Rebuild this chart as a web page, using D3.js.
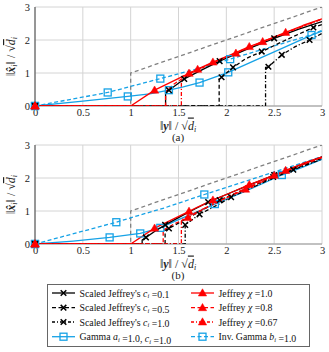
<!DOCTYPE html>
<html><head><meta charset="utf-8">
<script src="https://cdn.jsdelivr.net/npm/d3@7"></script>
<style>
body{margin:0;background:#fff;}
svg{display:block;}
svg text{font-family:"Liberation Serif","DejaVu Serif",serif;}
</style></head>
<body><svg id="c" width="329" height="352"></svg>
<script>
// ---------- data ----------
const xTicks = [0, 0.5, 1, 1.5, 2, 2.5, 3];
const yTicks = [0, 1, 2, 3];
const panelLabels = ["(a)", "(b)"];

// hard threshold reference (gray dashed), same in both panels
const hardX = [0, 1, 1, 3];
const hardY = [0, 0, 1, 3];

// Panel (a)
const aSJ01X = [0, 1.365, 1.365, 1.40, 1.56, 1.75, 1.93, 2.2, 2.5, 2.75, 3.0];
const aSJ01Y = [0, 0, 0.45, 0.48, 0.82, 1.1, 1.36, 1.7, 2.05, 2.32, 2.56];
const aSJ01M = [0, 3, 4, 6, 8];
const aSJ05X = [0, 1.925, 1.925, 1.95, 2.07, 2.2, 2.37, 2.6, 2.91, 3.0];
const aSJ05Y = [0, 0, 0.86, 0.87, 1.17, 1.43, 1.65, 1.97, 2.38, 2.47];
const aSJ05M = [0, 3, 4, 6, 8];
const aSJ10X = [0, 2.41, 2.41, 2.44, 2.58, 2.72, 2.87, 3.0];
const aSJ10Y = [0, 0, 1.17, 1.19, 1.55, 1.8, 2.0, 2.2];
const aSJ10M = [0, 3, 4, 6];
const aJ10X = [0, 1.0, 1.25, 1.61, 1.70, 1.86, 2.05, 2.24, 2.38, 2.62, 2.8, 3.0];
const aJ10Y = [0, 0, 0.48, 0.99, 1.12, 1.33, 1.56, 1.80, 1.95, 2.23, 2.44, 2.64];
const aJ10M = [0, 2, 3, 5, 7, 9];
const aJ08X = [0, 1.365, 1.365, 1.45, 1.6, 1.8, 2.1, 2.5, 3.0];
const aJ08Y = [0, 0, 0.45, 0.66, 0.95, 1.23, 1.6, 2.08, 2.64];
const aJ08M = [0, 6];
const aJ067X = [0, 1.53, 1.53, 1.70, 2.0, 2.38, 2.7, 3.0];
const aJ067Y = [0, 0, 0.88, 1.11, 1.49, 1.95, 2.31, 2.63];
const aJ067M = [0, 3, 5];
const aGamX = [0, 0.5, 0.97, 1.2, 1.40, 1.55, 1.72, 2.02, 2.3, 2.6, 2.89, 3.0];
const aGamY = [0, 0.15, 0.29, 0.37, 0.48, 0.58, 0.71, 1.02, 1.38, 1.77, 2.15, 2.27];
const aGamM = [0, 2, 4, 6, 7, 10];
const aIGX = [0, 0.76, 1.31, 1.7, 2.04, 2.5, 2.89, 3.0];
const aIGY = [0, 0.41, 0.83, 1.13, 1.42, 1.82, 2.16, 2.29];
const aIGM = [0, 1, 2, 4];

// Panel (b)
const bSJ01X = [0, 1.12, 1.12, 1.16, 1.25, 1.36, 1.5, 1.65, 1.81, 2.0, 2.25, 2.5, 2.75, 3.0];
const bSJ01Y = [0, 0, 0.12, 0.2, 0.38, 0.58, 0.8, 1.03, 1.27, 1.5, 1.8, 2.09, 2.37, 2.64];
const bSJ01M = [0, 3, 5, 8, 11];
const bSJ05X = [0, 1.36, 1.36, 1.40, 1.55, 1.72, 1.93, 2.2, 2.49, 2.75, 3.0];
const bSJ05Y = [0, 0, 0.42, 0.47, 0.72, 0.98, 1.33, 1.66, 2.03, 2.32, 2.6];
const bSJ05M = [0, 3, 6, 8];
const bSJ10X = [0, 1.57, 1.57, 1.72, 1.93, 2.05, 2.3, 2.49, 2.7, 3.0];
const bSJ10Y = [0, 0, 0.58, 0.9, 1.22, 1.42, 1.75, 2.0, 2.25, 2.57];
const bSJ10M = [0, 2, 3, 5, 8];
const bJ10X = aJ10X, bJ10Y = aJ10Y, bJ10M = aJ10M;
const bJ08X = [0, 1.34, 1.34, 1.45, 1.6, 1.8, 2.1, 2.5, 3.0];
const bJ08Y = [0, 0, 0.42, 0.6, 0.8, 1.12, 1.55, 2.08, 2.63];
const bJ08M = [0, 4, 7];
const bJ067X = [0, 1.53, 1.53, 1.7, 1.9, 2.2, 2.6, 3.0];
const bJ067Y = [0, 0, 0.73, 0.98, 1.26, 1.66, 2.18, 2.62];
const bJ067M = [0, 5];
const bGamX = [0, 0.4, 0.78, 1.10, 1.31, 1.5, 1.7, 1.88, 2.2, 2.58, 2.8, 3.0];
const bGamY = [0, 0.09, 0.2, 0.32, 0.49, 0.74, 0.98, 1.21, 1.6, 2.09, 2.33, 2.57];
const bGamM = [0, 2, 3, 4, 7, 9];
const bIGX = [0, 0.85, 1.1, 1.36, 1.77, 2.2, 2.6, 3.0];
const bIGY = [0, 0.66, 0.88, 1.1, 1.5, 1.9, 2.28, 2.65];
const bIGM = [0, 1, 4];

const legendNames = [
  ["Scaled Jeffrey's ", "c", "i", " =0.1"],
  ["Jeffrey  ", "χ", "", " =1.0"],
  ["Scaled Jeffrey's ", "c", "i", " =0.5"],
  ["Jeffrey  ", "χ", "", " =0.8"],
  ["Scaled Jeffrey's ", "c", "i", " =1.0"],
  ["Jeffrey  ", "χ", "", " =0.67"],
  ["Gamma ", "a", "i", " =1.0, ", "c", "i", " =1.0"],
  ["Inv. Gamma ", "b", "i", " =1.0"]
];

// ---------- styles ----------
const SERIF = "Liberation Serif, DejaVu Serif, serif";
const RED = "#ff0000", BLUE = "#16a2e6", BLACK = "#000";
const DASH = "4,2.5", DASHDOT = "4,2,1.2,2";
const styles = {
  sj01: {c: BLACK, d: null, m: "x"}, sj05: {c: BLACK, d: DASH, m: "x"}, sj10: {c: BLACK, d: DASHDOT, m: "x"},
  j10: {c: RED, d: null, m: "tri"}, j08: {c: RED, d: DASH, m: "tri"}, j067: {c: RED, d: DASHDOT, m: "tri"},
  gam: {c: BLUE, d: null, m: "sq"}, ig: {c: BLUE, d: DASH, m: "sq"}
};
const legendKeys = ["sj01", "j10", "sj05", "j08", "sj10", "j067", "gam", "ig"];

const panels = [
  {top: 7, bottom: 106, label: panelLabels[0],
   series: [
     ["gam", aGamX, aGamY, aGamM], ["ig", aIGX, aIGY, aIGM],
     ["sj10", aSJ10X, aSJ10Y, aSJ10M], ["sj05", aSJ05X, aSJ05Y, aSJ05M], ["sj01", aSJ01X, aSJ01Y, aSJ01M],
     ["j08", aJ08X, aJ08Y, aJ08M], ["j067", aJ067X, aJ067Y, aJ067M], ["j10", aJ10X, aJ10Y, aJ10M]
   ]},
  {top: 145, bottom: 244, label: panelLabels[1],
   series: [
     ["gam", bGamX, bGamY, bGamM], ["ig", bIGX, bIGY, bIGM],
     ["sj10", bSJ10X, bSJ10Y, bSJ10M], ["sj05", bSJ05X, bSJ05Y, bSJ05M], ["sj01", bSJ01X, bSJ01Y, bSJ01M],
     ["j08", bJ08X, bJ08Y, bJ08M], ["j067", bJ067X, bJ067Y, bJ067M], ["j10", bJ10X, bJ10Y, bJ10M]
   ]}
];

const svg = d3.select("#c");
const defs = svg.append("defs");

function drawMarker(g, type, cx, cy, color) {
  if (type === "x") {
    g.append("path").attr("d", `M${cx-2.8},${cy-2.8}L${cx+2.8},${cy+2.8}M${cx-2.8},${cy+2.8}L${cx+2.8},${cy-2.8}`)
      .attr("stroke", color).attr("stroke-width", 1.5).attr("fill", "none");
  } else if (type === "tri") {
    g.append("path").attr("d", d3.symbol(d3.symbolTriangle, 30)()).attr("transform", `translate(${cx},${cy+0.6})`)
      .attr("fill", color).attr("stroke", color).attr("stroke-width", 0.5);
  } else {
    g.append("rect").attr("x", cx-3.5).attr("y", cy-3.5).attr("width", 7).attr("height", 7)
      .attr("fill", "none").attr("stroke", color).attr("stroke-width", 1.3);
  }
}

function ylabel(g, cx, cy) {
  const t = g.append("text").attr("transform", `translate(${cx},${cy}) rotate(-90)`)
    .attr("text-anchor", "middle").attr("font-size", 12).attr("font-family", SERIF).attr("fill", "#222");
  t.append("tspan").text("‖");
  t.append("tspan").attr("font-weight", "bold").attr("font-style", "italic").text("x̂");
  t.append("tspan").attr("font-size", 8).attr("font-style", "italic").attr("dy", 2).text("i");
  t.append("tspan").attr("dy", -2).text("‖ / √");
  t.append("tspan").attr("font-style", "italic").attr("text-decoration", "overline").text("d");
  t.append("tspan").attr("font-size", 8).attr("font-style", "italic").attr("dy", 2).text("i");
}
function xlabel(g, cx, cy) {
  const t = g.append("text").attr("x", cx).attr("y", cy).attr("text-anchor", "middle")
    .attr("font-size", 12).attr("font-family", SERIF).attr("fill", "#222");
  t.append("tspan").text("‖");
  t.append("tspan").attr("font-weight", "bold").attr("font-style", "italic").text("y");
  t.append("tspan").text("‖ / √");
  t.append("tspan").attr("font-style", "italic").attr("text-decoration", "overline").text("d");
  t.append("tspan").attr("font-size", 8).attr("font-style", "italic").attr("dy", 2).text("i");
}

panels.forEach((p, pi) => {
  const x = d3.scaleLinear().domain([0, 3]).range([35, 322]);
  const y = d3.scaleLinear().domain([0, 3]).range([p.bottom, p.top]);
  const g = svg.append("g");
  const cid = "clip" + pi;
  defs.append("clipPath").attr("id", cid).append("rect")
    .attr("x", 35).attr("y", p.top).attr("width", 287).attr("height", p.bottom - p.top);

  // grid
  g.append("g").selectAll("line").data(xTicks).join("line")
    .attr("x1", d => x(d)).attr("x2", d => x(d)).attr("y1", p.top).attr("y2", p.bottom)
    .attr("stroke", "#d4d4d4").attr("stroke-width", 1);
  g.append("g").selectAll("line").data(yTicks).join("line")
    .attr("x1", 35).attr("x2", 322).attr("y1", d => y(d)).attr("y2", d => y(d))
    .attr("stroke", "#d4d4d4").attr("stroke-width", 1);

  // axes (labels only)
  const ax = g.append("g").attr("transform", `translate(0,${p.bottom})`)
    .call(d3.axisBottom(x).tickValues(xTicks).tickSize(0).tickPadding(3).tickFormat(d3.format("")));
  ax.attr("font-family", SERIF);
  ax.select(".domain").remove();
  ax.selectAll("text").attr("font-family", SERIF).attr("font-size", 10.5).attr("fill", "#222");
  const ay = g.append("g").attr("transform", "translate(35,0)")
    .call(d3.axisLeft(y).tickValues(yTicks).tickSize(0).tickPadding(5).tickFormat(d3.format("")));
  ay.attr("font-family", SERIF);
  ay.select(".domain").remove();
  ay.selectAll("text").attr("font-family", SERIF).attr("font-size", 10.5).attr("fill", "#222");

  // frame
  g.append("line").attr("x1", 35).attr("x2", 35).attr("y1", p.top).attr("y2", p.bottom).attr("stroke", "#444").attr("stroke-width", 1);
  g.append("line").attr("x1", 35).attr("x2", 322).attr("y1", p.bottom).attr("y2", p.bottom).attr("stroke", "#999").attr("stroke-width", 1);

  const line = d3.line().x(d => x(d[0])).y(d => y(d[1]));
  const lg = g.append("g").attr("clip-path", `url(#${cid})`);
  // hard threshold
  lg.append("path").datum(d3.zip(hardX, hardY)).attr("d", line)
    .attr("fill", "none").attr("stroke", "#808080").attr("stroke-width", 1.3).attr("stroke-dasharray", "4,3");

  p.series.forEach(([key, xs, ys, ms]) => {
    const s = styles[key];
    lg.append("path").datum(d3.zip(xs, ys)).attr("d", line)
      .attr("fill", "none").attr("stroke", s.c).attr("stroke-width", 1.3)
      .attr("stroke-dasharray", s.d).attr("stroke-linejoin", "round");
  });
  const mg = g.append("g");
  p.series.forEach(([key, xs, ys, ms]) => {
    const s = styles[key];
    ms.forEach(i => drawMarker(mg, s.m, x(xs[i]), y(ys[i]), s.c));
  });

  ylabel(g, 15, (p.top + p.bottom) / 2);
  xlabel(g, 178, p.bottom + 23.5);
  g.append("text").attr("x", 178).attr("y", p.bottom + 35).attr("text-anchor", "middle")
    .attr("font-size", 11).attr("font-family", SERIF).attr("fill", "#222").text(p.label);
});

// ---------- legend ----------
const leg = svg.append("g");
leg.append("rect").attr("x", 47.5).attr("y", 284.5).attr("width", 262).attr("height", 62)
  .attr("fill", "#fff").attr("stroke", "#666").attr("stroke-width", 1);
const rowY = [293, 307.7, 322, 336.7];
const colX = [52, 191];
legendKeys.forEach((k, i) => {
  const s = styles[k];
  const cx = colX[i % 2], cy = rowY[Math.floor(i / 2)];
  leg.append("line").attr("x1", cx).attr("x2", cx + 23).attr("y1", cy).attr("y2", cy)
    .attr("stroke", s.c).attr("stroke-width", 1.3).attr("stroke-dasharray", s.d ? (s.d === DASH ? "4,2.5" : "3,2,1,2") : null);
  drawMarker(leg, s.m, cx + 11.5, cy, s.c);
  const t = leg.append("text").attr("x", cx + 27.5).attr("y", cy + 3.5).attr("font-size", 9.8)
    .attr("font-family", SERIF).attr("fill", "#111");
  const parts = legendNames[i];
  for (let j = 0; j < parts.length; j++) {
    const mod = j % 3;
    if (mod === 0) t.append("tspan").text(parts[j]);
    else if (mod === 1) t.append("tspan").attr("font-style", "italic").text(parts[j]);
    else if (parts[j]) {
      t.append("tspan").attr("font-size", 6.5).attr("font-style", "italic").attr("dy", 1.8).text(parts[j]);
      t.append("tspan").attr("dy", -1.8).text("");
    }
  }
});
</script></body></html>
